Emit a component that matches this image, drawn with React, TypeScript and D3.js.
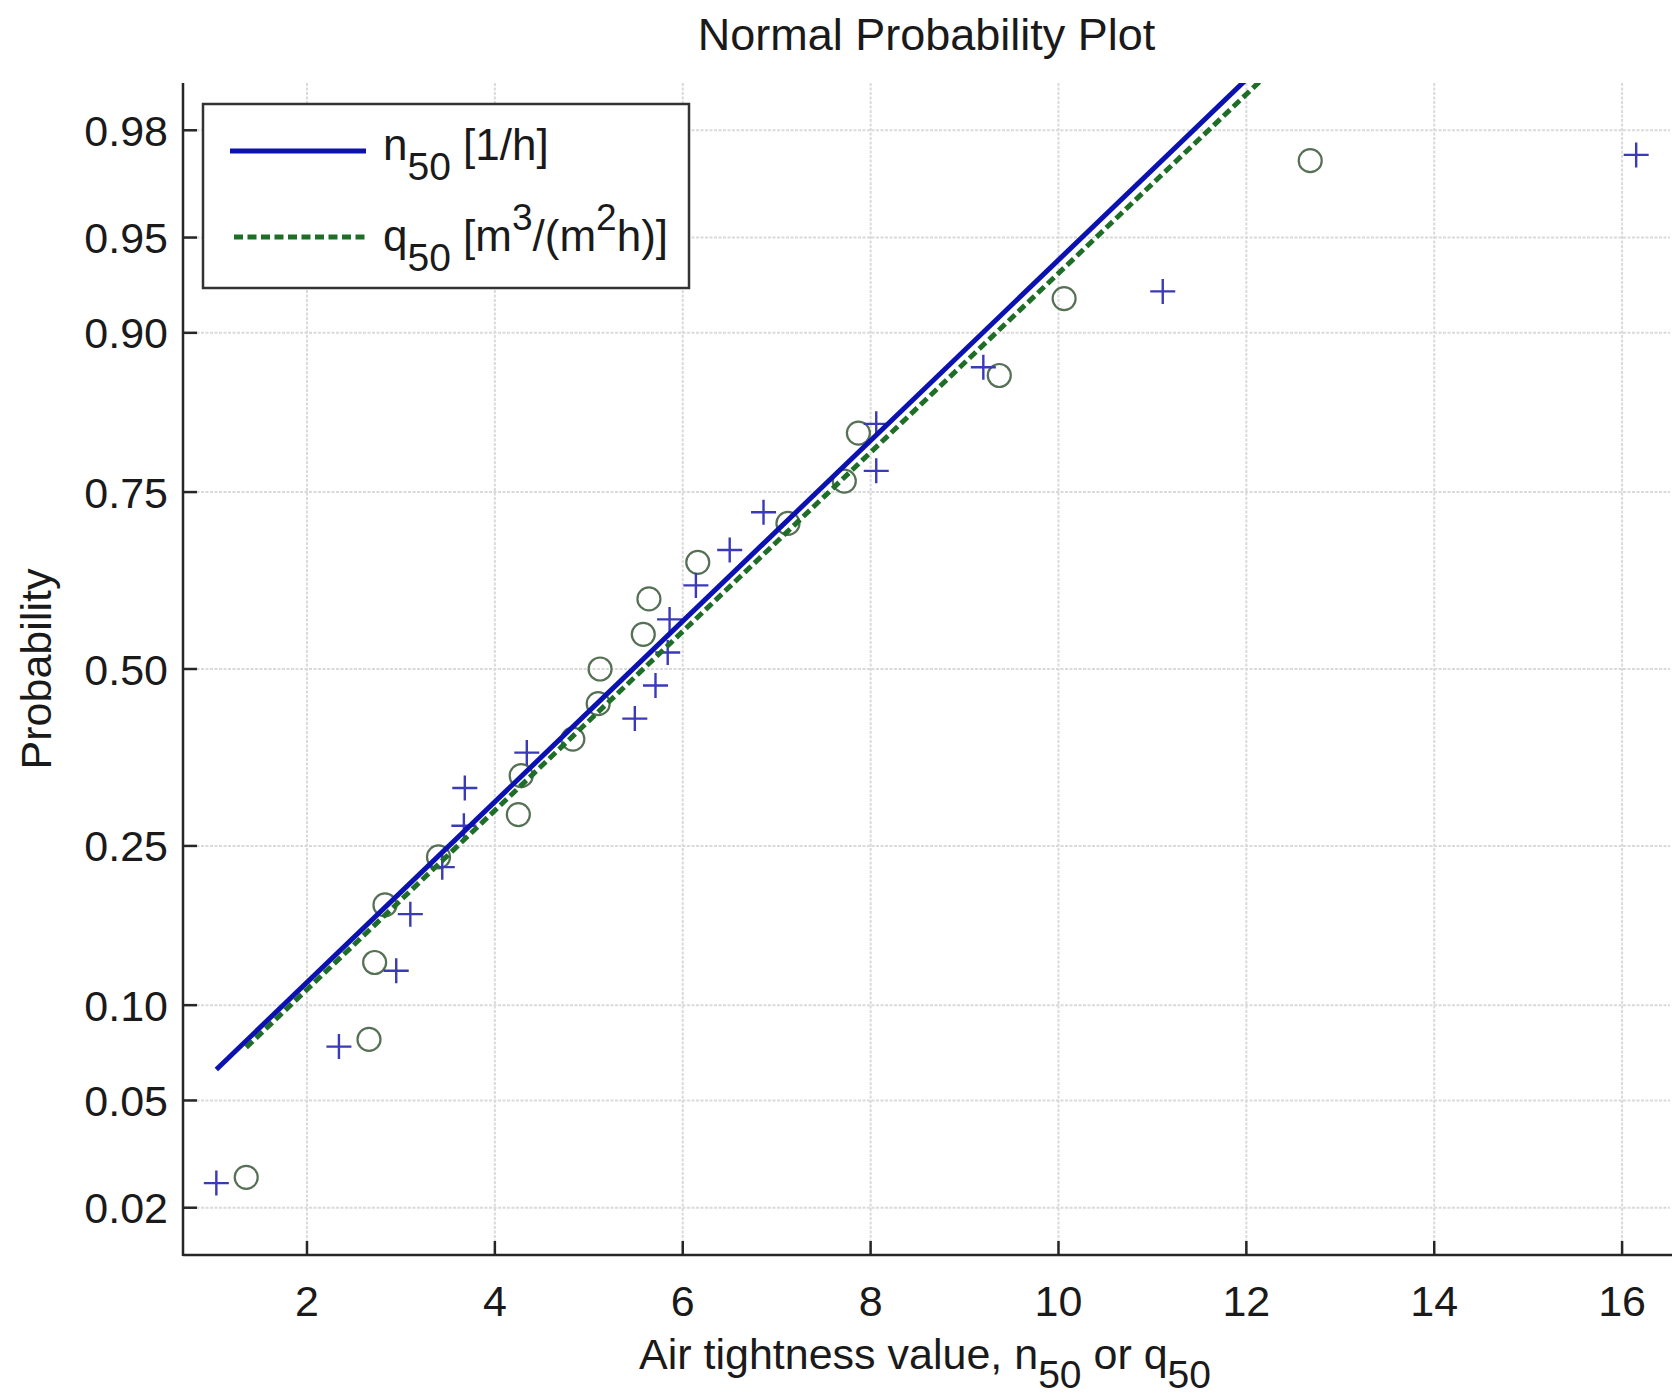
import * as d3 from "d3";

// sorted sample values
const n50 = [1.035, 2.34, 2.95, 3.1, 3.44, 3.67, 3.68, 4.34, 5.49, 5.71, 5.84, 5.86, 6.14, 6.5, 6.86, 8.06, 8.06, 9.2, 11.11, 16.15];
const q50 = [1.353, 2.66, 2.72, 2.83, 3.4, 4.25, 4.28, 4.83, 5.1, 5.12, 5.58, 5.64, 6.16, 7.12, 7.72, 7.87, 9.37, 10.06, 12.68];
// fitted normal lines (mean, sigma) for n50 and q50
const fitMu = [5.47, 5.58];
const fitSigma = [2.905, 2.93];
const probTicks = [0.02, 0.05, 0.1, 0.25, 0.5, 0.75, 0.9, 0.95, 0.98];
const xTicks = [2, 4, 6, 8, 10, 12, 14, 16];

// inverse of the standard normal cdf (Acklam)
function normInv(p: number): number {
  const a = [-39.69683028665376, 220.9460984245205, -275.9285104469687, 138.357751867269, -30.66479806614716, 2.506628277459239];
  const b = [-54.47609879822406, 161.5858368580409, -155.6989798598866, 66.80131188771972, -13.28068155288572];
  const c = [-0.007784894002430293, -0.3223964580411365, -2.400758277161838, -2.549732539343734, 4.374664141464968, 2.938163982698783];
  const d = [0.007784695709041462, 0.3224671290700398, 2.445134137142996, 3.754408661907416];
  const pl = 0.02425;
  if (p < pl) {
    const q = Math.sqrt(-2 * Math.log(p));
    return (((((c[0] * q + c[1]) * q + c[2]) * q + c[3]) * q + c[4]) * q + c[5]) / ((((d[0] * q + d[1]) * q + d[2]) * q + d[3]) * q + 1);
  }
  if (p > 1 - pl) {
    const q = Math.sqrt(-2 * Math.log(1 - p));
    return -(((((c[0] * q + c[1]) * q + c[2]) * q + c[3]) * q + c[4]) * q + c[5]) / ((((d[0] * q + d[1]) * q + d[2]) * q + d[3]) * q + 1);
  }
  const q = p - 0.5;
  const r = q * q;
  return ((((((a[0] * r + a[1]) * r + a[2]) * r + a[3]) * r + a[4]) * r + a[5]) * q) / (((((b[0] * r + b[1]) * r + b[2]) * r + b[3]) * r + b[4]) * r + 1);
}

const W = 1672;
const H = 1397;
const left = 183;
const right = 1670;
const top = 83;
const bottom = 1255;
const font = "'Liberation Sans', Arial, Helvetica, sans-serif";

const blueLine = "#0c12b0";
const greenLine = "#1e6e28";
const plusColor = "#3a3ab8";
const circColor = "#557055";

export default function App() {
  const x = d3.scaleLinear().domain([0.68, 16.51]).range([left, right]);
  const zLim = 2.234;
  const yz = d3.scaleLinear().domain([-zLim, zLim]).range([bottom, top]);
  const y = (p: number) => yz(normInv(p));

  // plotting positions (i - 0.5) / n, as normplot does
  const pos = (arr: number[]) => arr.map((v, i) => ({ v, p: (i + 0.5) / arr.length }));
  const nPts = pos(n50);
  const qPts = pos(q50);

  const fitPath = (data: number[], k: number) => {
    const ext = d3.extent(data) as [number, number];
    const gen = d3
      .line<number>()
      .x((v) => x(v))
      .y((v) => yz((v - fitMu[k]) / fitSigma[k]));
    return gen(ext) || "";
  };

  const fmt = d3.format(".2f");

  return (
    <svg width={W} height={H} style={{ position: "absolute", left: 0, top: 0, background: "#fff" }} fontFamily={font}>
      <defs>
        <clipPath id="plotClip">
          <rect x={left} y={top} width={right - left} height={bottom - top} />
        </clipPath>
      </defs>
      <rect x={0} y={0} width={W} height={H} fill="#fff" />

      {/* grid */}
      <g stroke="#dadada" strokeWidth={2} strokeDasharray="3,1.5">
        {xTicks.map((t) => (
          <line key={"gx" + t} x1={x(t)} x2={x(t)} y1={top} y2={bottom} />
        ))}
        {probTicks.map((p) => (
          <line key={"gy" + p} x1={left} x2={right} y1={y(p)} y2={y(p)} />
        ))}
      </g>

      {/* markers and fit lines */}
      <g clipPath="url(#plotClip)">
        {qPts.map((d, i) => (
          <circle key={"q" + i} cx={x(d.v)} cy={y(d.p)} r={11.5} fill="none" stroke={circColor} strokeWidth={2.2} />
        ))}
        {nPts.map((d, i) => (
          <path
            key={"n" + i}
            transform={`translate(${x(d.v)},${y(d.p)})`}
            d="M-12.5,0H12.5M0,-12.5V12.5"
            stroke={plusColor}
            strokeWidth={2.4}
            fill="none"
          />
        ))}
        <path d={fitPath(q50, 1)} stroke={greenLine} strokeWidth={5} strokeDasharray="9,4.5" fill="none" />
        <path d={fitPath(n50, 0)} stroke={blueLine} strokeWidth={5} fill="none" />
      </g>

      {/* axes */}
      <g stroke="#262626" strokeWidth={2.5}>
        <line x1={left} x2={left} y1={top} y2={bottom + 1} />
        <line x1={left} x2={right + 2} y1={bottom} y2={bottom} />
        {probTicks.map((p) => (
          <line key={"ty" + p} x1={left} x2={left + 14} y1={y(p)} y2={y(p)} />
        ))}
        {xTicks.map((t) => (
          <line key={"tx" + t} x1={x(t)} x2={x(t)} y1={bottom} y2={bottom - 14} />
        ))}
      </g>

      {/* tick labels */}
      <g fontSize={43} fill="#1a1a1a">
        {probTicks.map((p) => (
          <text key={"ly" + p} x={168} y={y(p) + 15.5} textAnchor="end">
            {fmt(p)}
          </text>
        ))}
        {xTicks.map((t) => (
          <text key={"lx" + t} x={x(t)} y={1316} textAnchor="middle">
            {t}
          </text>
        ))}
      </g>

      {/* title and axis labels */}
      <text x={(left + right) / 2} y={50} textAnchor="middle" fontSize={45} fill="#1a1a1a">
        Normal Probability Plot
      </text>
      <text x={925} y={1369} textAnchor="middle" fontSize={43} fill="#1a1a1a">
        Air tightness value, n
        <tspan dy={19} fontSize={39}>50</tspan>
        <tspan dy={-19}> or q</tspan>
        <tspan dy={19} fontSize={39}>50</tspan>
      </text>
      <text transform={`translate(51,${yz(0)}) rotate(-90)`} textAnchor="middle" fontSize={43} fill="#1a1a1a">
        Probability
      </text>

      {/* legend */}
      <g>
        <rect x={203} y={104} width={486} height={184} fill="#fff" stroke="#333" strokeWidth={2.5} />
        <line x1={230} x2={366} y1={151} y2={151} stroke={blueLine} strokeWidth={5} />
        <line x1={234} x2={366} y1={237} y2={237} stroke={greenLine} strokeWidth={5} strokeDasharray="9,4.5" />
        <text x={383} y={160} fontSize={44} fill="#1a1a1a">
          n<tspan dy={20} fontSize={39}>50</tspan>
          <tspan dy={-20}> [1/h]</tspan>
        </text>
        <text x={383} y={251} fontSize={44} fill="#1a1a1a">
          q<tspan dy={20} fontSize={39}>50</tspan>
          <tspan dy={-20}> [m</tspan>
          <tspan dy={-21} fontSize={37}>3</tspan>
          <tspan dy={21}>/(m</tspan>
          <tspan dy={-21} fontSize={37}>2</tspan>
          <tspan dy={21}>h)]</tspan>
        </text>
      </g>
    </svg>
  );
}
